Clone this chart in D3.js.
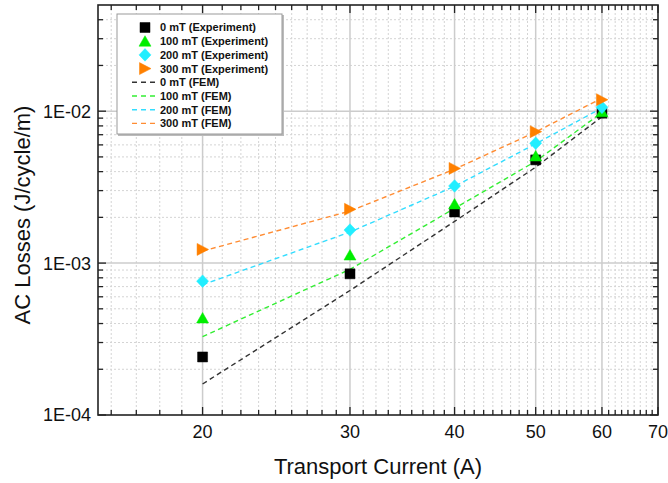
<!DOCTYPE html>
<html>
<head>
<meta charset="utf-8">
<script src="https://cdn.jsdelivr.net/npm/d3@7"></script>
<style>
  html, body { margin: 0; padding: 0; background: #fff; }
  svg { display: block; font-family: Arial, "Liberation Sans", sans-serif; }
</style>
</head>
<body>
<svg id="chart" width="668" height="483"></svg>
<script>
// Transport currents (A)
const currents = [20, 30, 40, 50, 60];

// Measured AC losses (J/cycle/m) at each background field
const exp0   = [2.41e-4, 8.5e-4, 2.17e-3, 4.78e-3, 9.7e-3];
const exp100 = [4.35e-4, 1.13e-3, 2.45e-3, 5.07e-3, 9.9e-3];
const exp200 = [7.6e-4, 1.65e-3, 3.22e-3, 6.15e-3, 1.06e-2];
const exp300 = [1.23e-3, 2.26e-3, 4.2e-3, 7.33e-3, 1.19e-2];

// FEM simulated AC losses (J/cycle/m)
const fem0   = [1.6e-4, 6.6e-4, 1.88e-3, 4.28e-3, 9.2e-3];
const fem100 = [3.28e-4, 9.1e-4, 2.29e-3, 4.68e-3, 9.8e-3];
const fem200 = [7.2e-4, 1.6e-3, 3.2e-3, 6.1e-3, 1.05e-2];
const fem300 = [1.2e-3, 2.2e-3, 4.15e-3, 7.3e-3, 1.22e-2];

// Axis ticks
const xMajorTicks = [20, 30, 40, 50, 60, 70];
const xTickLabels = ["20", "30", "40", "50", "60", "70"];
const yMajorTicks = [1e-4, 1e-3, 1e-2];
const yTickLabels = ["1E-04", "1E-03", "1E-02"];

const seriesNames = ["0 mT", "100 mT", "200 mT", "300 mT"];
const expSeries = [exp0, exp100, exp200, exp300];
const femSeries = [fem0, fem100, fem200, fem300];

const markerColors = ["#000000", "#00ee00", "#22eeff", "#ff8000"];
const lineColors   = ["#333333", "#33ee33", "#33ddff", "#ff8c33"];
const markerShapes = ["square", "triangleUp", "diamond", "triangleRight"];

const svg = d3.select("#chart");
const L = 98, R = 658, T = 5, B = 415;

const x = d3.scaleLog().domain([15, 70]).range([L, R]);
const y = d3.scaleLog().domain([1e-4, 5e-2]).range([B, T]);

// minor ticks: x splits each 10 A interval into 9 equal parts, y uses 2..9 per decade
const xMinor = [];
for (let n = 10; n < 70; n += 10) {
  for (let j = 1; j <= 8; j++) {
    const v = n + j * 10 / 9;
    if (v > 15 && v < 70) xMinor.push(v);
  }
}
const yMinor = [];
for (let e = -4; e <= -2; e++) {
  for (let m = 2; m <= 9; m++) {
    const v = m * Math.pow(10, e);
    if (v < 5e-2) yMinor.push(v);
  }
}

// grid
const grid = svg.append("g");
grid.selectAll("line.xmin").data(xMinor).enter().append("line")
  .attr("x1", d => x(d)).attr("x2", d => x(d)).attr("y1", T).attr("y2", B)
  .attr("stroke", "#d4d4d4").attr("stroke-width", 1).attr("stroke-dasharray", "2,2");
grid.selectAll("line.ymin").data(yMinor).enter().append("line")
  .attr("y1", d => y(d)).attr("y2", d => y(d)).attr("x1", L).attr("x2", R)
  .attr("stroke", "#d4d4d4").attr("stroke-width", 1).attr("stroke-dasharray", "2,2");
grid.selectAll("line.xmaj").data(xMajorTicks.filter(d => d < 70)).enter().append("line")
  .attr("x1", d => x(d)).attr("x2", d => x(d)).attr("y1", T).attr("y2", B)
  .attr("stroke", "#cccccc").attr("stroke-width", 1.5);
grid.selectAll("line.ymaj").data(yMajorTicks.filter(d => d > 1e-4)).enter().append("line")
  .attr("y1", d => y(d)).attr("y2", d => y(d)).attr("x1", L).attr("x2", R)
  .attr("stroke", "#cccccc").attr("stroke-width", 1.5);

// FEM dashed lines
const line = d3.line().x(d => x(d[0])).y(d => y(d[1]));
femSeries.forEach((vals, i) => {
  svg.append("path")
    .datum(currents.map((c, k) => [c, vals[k]]))
    .attr("d", line)
    .attr("fill", "none")
    .attr("stroke", lineColors[i])
    .attr("stroke-width", 1.4)
    .attr("stroke-dasharray", "5,3.5");
});

// marker shapes
function markerPath(shape, cx, cy) {
  const p = d3.path();
  if (shape === "square") {
    const h = 5;
    p.rect(cx - h, cy - h, 2 * h, 2 * h);
  } else if (shape === "triangleUp") {
    p.moveTo(cx, cy - 5.5); p.lineTo(cx + 6, cy + 5); p.lineTo(cx - 6, cy + 5); p.closePath();
  } else if (shape === "diamond") {
    p.moveTo(cx, cy - 6.3); p.lineTo(cx + 6, cy); p.lineTo(cx, cy + 6.3); p.lineTo(cx - 6, cy); p.closePath();
  } else {
    p.moveTo(cx - 5.5, cy - 6); p.lineTo(cx + 6, cy); p.lineTo(cx - 5.5, cy + 6); p.closePath();
  }
  return p.toString();
}

// experimental markers
expSeries.forEach((vals, i) => {
  svg.append("g").selectAll("path").data(currents.map((c, k) => [c, vals[k]])).enter()
    .append("path")
    .attr("d", d => markerPath(markerShapes[i], x(d[0]), y(d[1])))
    .attr("fill", markerColors[i])
    .attr("stroke", markerColors[i])
    .attr("stroke-width", 0.5);
});

// axes (ticks pointing inward on all four sides)
const tickG = svg.append("g").attr("stroke", "#222").attr("stroke-width", 1.3);
function xTicks(vals, len) {
  vals.forEach(v => {
    tickG.append("line").attr("x1", x(v)).attr("x2", x(v)).attr("y1", B).attr("y2", B - len);
    tickG.append("line").attr("x1", x(v)).attr("x2", x(v)).attr("y1", T).attr("y2", T + len);
  });
}
function yTicks(vals, len) {
  vals.forEach(v => {
    tickG.append("line").attr("y1", y(v)).attr("y2", y(v)).attr("x1", L).attr("x2", L + len);
    tickG.append("line").attr("y1", y(v)).attr("y2", y(v)).attr("x1", R).attr("x2", R - len);
  });
}
xTicks(xMajorTicks, 8);
xTicks(xMinor, 5);
yTicks(yMajorTicks, 8);
yTicks(yMinor, 5);

svg.append("rect").attr("x", L).attr("y", T).attr("width", R - L).attr("height", B - T)
  .attr("fill", "none").attr("stroke", "#222").attr("stroke-width", 1.6);

// tick labels
svg.append("g").selectAll("text").data(xMajorTicks).enter().append("text")
  .attr("x", d => x(d)).attr("y", 438)
  .attr("text-anchor", "middle").attr("font-size", 18).attr("fill", "#111")
  .text((d, i) => xTickLabels[i]);
svg.append("g").selectAll("text").data(yMajorTicks).enter().append("text")
  .attr("x", 91).attr("y", d => y(d)).attr("dy", "0.36em")
  .attr("text-anchor", "end").attr("font-size", 18).attr("fill", "#111")
  .text((d, i) => yTickLabels[i]);

// axis titles
svg.append("text").attr("x", (L + R) / 2).attr("y", 474)
  .attr("text-anchor", "middle").attr("font-size", 22).attr("fill", "#111")
  .text("Transport Current (A)");
svg.append("text").attr("transform", `translate(30,${(T + B) / 2 + 5}) rotate(-90)`)
  .attr("text-anchor", "middle").attr("font-size", 22).attr("fill", "#111")
  .text("AC Losses (J/cycle/m)");

// legend
const lg = svg.append("g");
lg.append("rect").attr("x", 118).attr("y", 15).attr("width", 166).attr("height", 121)
  .attr("fill", "#bbb");
lg.append("rect").attr("x", 117).attr("y", 14).attr("width", 165).attr("height", 120)
  .attr("fill", "#fff").attr("stroke", "#999").attr("stroke-width", 1);
const rowY = k => 27.5 + k * 13.7;
seriesNames.forEach((name, i) => {
  lg.append("path").attr("d", markerPath(markerShapes[i], 145, rowY(i)))
    .attr("fill", markerColors[i]).attr("stroke", markerColors[i]).attr("stroke-width", 0.5);
  lg.append("text").attr("x", 160).attr("y", rowY(i)).attr("dy", "0.36em")
    .attr("font-size", 11).attr("font-weight", "bold").attr("fill", "#111")
    .text(name + " (Experiment)");
});
seriesNames.forEach((name, i) => {
  const ry = rowY(i + 4);
  lg.append("line").attr("x1", 132).attr("x2", 158).attr("y1", ry).attr("y2", ry)
    .attr("stroke", lineColors[i]).attr("stroke-width", 1.4).attr("stroke-dasharray", "5,4");
  lg.append("text").attr("x", 160).attr("y", ry).attr("dy", "0.36em")
    .attr("font-size", 11).attr("font-weight", "bold").attr("fill", "#111")
    .text(name + " (FEM)");
});
</script>
</body>
</html>
